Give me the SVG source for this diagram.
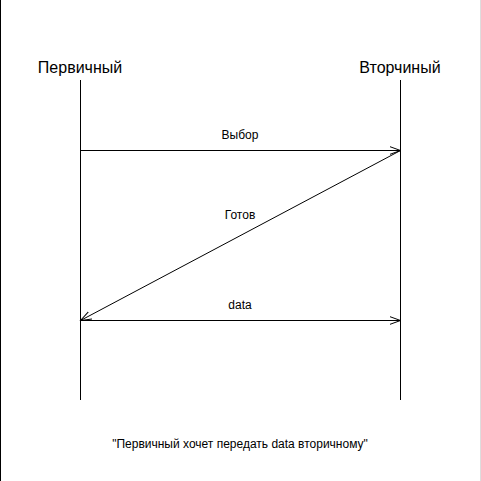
<svg xmlns="http://www.w3.org/2000/svg" width="481" height="481" viewBox="0 0 481 481">
  <style>
    text { font-family: "Liberation Sans", Arial, sans-serif; fill: #000; text-anchor: middle; }
    .actor { font-size: 16px; }
    .label { font-size: 12px; }
    .life { stroke: #000; stroke-width: 1; fill: none; }
    .msg { stroke: #000; stroke-width: 1; fill: none; }
    .head { stroke: #000; stroke-width: 1; fill: none; }
  </style>
  <defs>
    <marker id="open" viewBox="0 0 12 10" refX="11" refY="5" markerWidth="12" markerHeight="10" markerUnits="userSpaceOnUse" orient="auto">
      <path d="M0,1 L11,5 L0,9" class="head"/>
    </marker>
  </defs>
  <rect x="0" y="0" width="481" height="481" fill="#fff"/>
  <line x1="0.5" y1="0" x2="0.5" y2="481" stroke="#000"/>
  <line x1="480.5" y1="0" x2="480.5" y2="481" stroke="#ddd"/>

  <g id="primary">
    <text class="actor" x="80" y="73">Первичный</text>
    <line class="life" x1="80.5" y1="80" x2="80.5" y2="400"/>
  </g>
  <g id="secondary">
    <text class="actor" x="400" y="73">Вторчиный</text>
    <line class="life" x1="400.5" y1="80" x2="400.5" y2="400"/>
  </g>

  <g id="connectors">
    <line class="msg" x1="80.5" y1="150.5" x2="400.5" y2="150.5" marker-end="url(#open)"/>
    <text class="label" x="240" y="139">Выбор</text>
    <line class="msg" x1="400.5" y1="150.5" x2="80.5" y2="320.5" marker-end="url(#open)"/>
    <text class="label" x="240" y="219">Готов</text>
    <line class="msg" x1="80.5" y1="320.5" x2="400.5" y2="320.5" marker-end="url(#open)"/>
    <text class="label" x="240" y="309">data</text>
  </g>

  <g id="note">
    <text class="label" x="240" y="448">"Первичный хочет передать data вторичному"</text>
  </g>
</svg>
